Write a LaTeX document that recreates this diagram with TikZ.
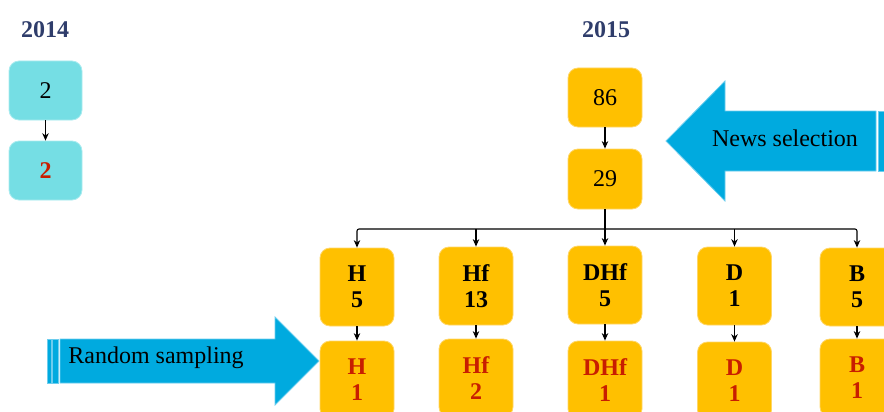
\documentclass[tikz,border=0pt]{standalone}
\usepackage{fontspec}
\setmainfont{Liberation Serif}
\usetikzlibrary{arrows.meta}
\definecolor{ybox}{HTML}{FFC000}
\definecolor{yedge}{HTML}{FFD666}
\definecolor{cbox}{HTML}{75DEE4}
\definecolor{cedge}{HTML}{A8EBEF}
\definecolor{barrow}{HTML}{00AADF}
\definecolor{bedge}{HTML}{6CCDEE}
\definecolor{redtxt}{RGB}{200,30,0}
\definecolor{navy}{HTML}{2F3D6B}
\tikzset{
  box/.style={rectangle, rounded corners=10pt, minimum width=74pt, align=center, line width=0.8pt, inner sep=0pt},
  yb/.style={box, fill=ybox, draw=yedge},
  cb/.style={box, fill=cbox, draw=cedge, minimum width=73pt, minimum height=59pt},
  tall/.style={yb, minimum height=78pt, font=\fontsize{24}{26}\selectfont\bfseries},
  redt/.style={text=redtxt},
  num/.style={font=\fontsize{24}{26}\selectfont},
  year/.style={font=\fontsize{24}{26}\selectfont\bfseries, text=navy},
  arr/.style={line width=1.1pt, -{Stealth[length=7.5pt,width=6.5pt]}},
  lbl/.style={font=\fontsize{24}{26}\selectfont}
}
\begin{document}
\begin{tikzpicture}[x=1pt,y=-1pt]
\useasboundingbox (0,0) rectangle (884,412);
\clip (0,0) rectangle (884,412);
% years
\node[year] (y14) at (45,30) {2014};
\node[year] (y15) at (606,30) {2015};
% 2014 column
\node[cb, num] (c1) at (45.5,90.5) {2};
\node[cb, num, font=\fontsize{24}{26}\selectfont\bfseries, redt] (c2) at (45.5,170.5) {2};
\draw[arr] (c1.south) -- (c2.north);
% big arrows
\fill[barrow, draw=bedge, line width=0.8pt] (666,141) -- (725,81) -- (725,111) -- (876,111) -- (876,171) -- (725,171) -- (725,201) -- cycle;
\fill[barrow, draw=bedge, line width=0.8pt] (878,111) rectangle (892,171);
\node[lbl] (news) at (785,138) {News selection};
\fill[barrow, draw=bedge, line width=0.8pt] (319,361) -- (275,317) -- (275,339) -- (60,339) -- (60,383) -- (275,383) -- (275,405) -- cycle;
\fill[barrow, draw=bedge, line width=0.8pt] (52.5,339) rectangle (58,383);
\fill[barrow, draw=bedge, line width=0.8pt] (47,339) rectangle (51,383);
\node[lbl] (rand) at (156,358) {Random sampling};
% 2015 column
\node[yb, num, minimum height=59pt] (n86) at (605,97.5) {86};
\node[yb, num, minimum height=60pt] (n29) at (605,179) {29};
\draw[arr] (n86.south) -- (n29.north);
% top row
\node[tall] (H) at (357,287) {H\\5};
\node[tall] (Hf) at (476,286) {Hf\\13};
\node[tall] (DHf) at (605,285) {DHf\\5};
\node[tall] (D) at (734.5,286) {D\\1};
\node[tall] (B) at (857,287) {B\\5};
% bottom row
\node[tall, redt] (H2) at (357,380) {H\\1};
\node[tall, redt] (Hf2) at (476,378) {Hf\\2};
\node[tall, redt] (DHf2) at (605,380) {DHf\\1};
\node[tall, redt] (D2) at (734.5,381) {D\\1};
\node[tall, redt] (B2) at (857,378) {B\\1};
% connectors
\coordinate (bus) at (605,229);
\draw[arr] (n29.south) -- (DHf.north);
\draw[arr, rounded corners=2pt] (bus) -| (H.north);
\draw[arr, rounded corners=2pt] (bus) -| (B.north);
\draw[arr] (Hf.north |- bus) -- (Hf.north);
\draw[arr] (D.north |- bus) -- (D.north);
\draw[arr] (H.south) -- (H2.north);
\draw[arr] (Hf.south) -- (Hf2.north);
\draw[arr] (DHf.south) -- (DHf2.north);
\draw[arr] (D.south) -- (D2.north);
\draw[arr] (B.south) -- (B2.north);
\end{tikzpicture}
\end{document}
